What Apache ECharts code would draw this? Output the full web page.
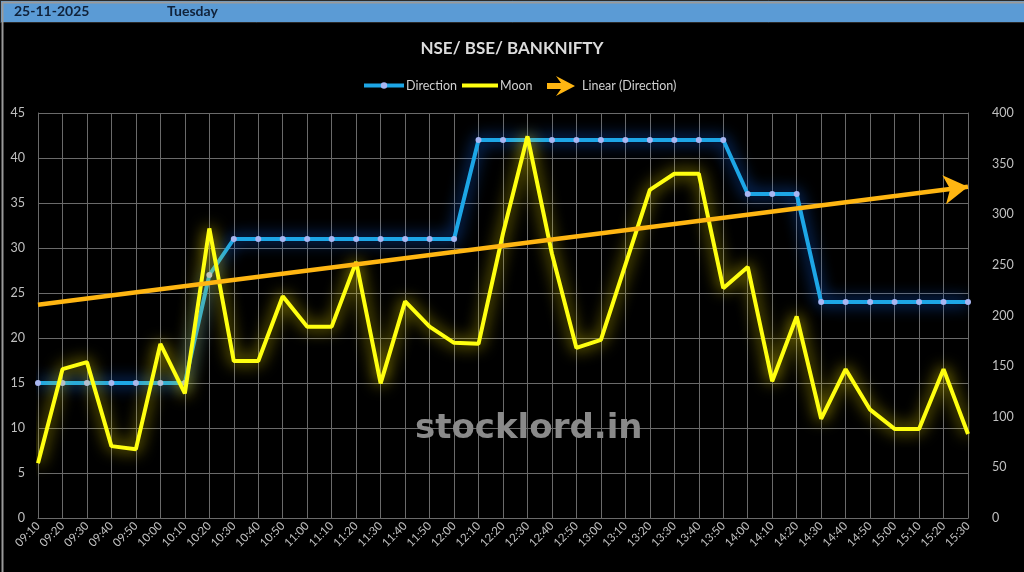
<!DOCTYPE html>
<html><head><meta charset="utf-8">
<script src="https://cdn.jsdelivr.net/npm/echarts@6/dist/echarts.min.js"></script>
<style>html,body{margin:0;padding:0;background:#000}#c{width:1024px;height:572px}</style>
</head><body><div id="c"></div>
<script>
const times = ['09:10','09:20','09:30','09:40','09:50','10:00','10:10','10:20','10:30','10:40','10:50','11:00','11:10','11:20','11:30','11:40','11:50','12:00','12:10','12:20','12:30','12:40','12:50','13:00','13:10','13:20','13:30','13:40','13:50','14:00','14:10','14:20','14:30','14:40','14:50','15:00','15:10','15:20','15:30'];
const direction = [15,15,15,15,15,15,15,27,31,31,31,31,31,31,31,31,31,31,42,42,42,42,42,42,42,42,42,42,42,36,36,36,24,24,24,24,24,24,24];
const moon = [54,147,154,71,68,172,123,286,155,155,219,189,189,253,133,214,189,173,172,281,377,261,168,176,250,324,340,340,227,248,135,199,98,147,107,88,88,147,83];
const trendEnds = [23.7, 36.8];
const leftTicks = {min:0, max:45, step:5};
const rightTicks = {min:0, max:400, step:50};
const headerDate = '25-11-2025';
const headerDay = 'Tuesday';

const FONT = 'Lato, "Open Sans", sans-serif';
const chart = echarts.init(document.getElementById('c'), null, {renderer:'canvas'});
const gridColor = '#6a6a6a';
const labelColor = '#c0c0c0';
const arrowPath = 'path://M0,7 L14,7 L9,0 L28,10 L9,20 L14,13 L0,13 Z';
const legendText = {color:'#d0d0d0', fontSize:12.5, fontFamily:FONT, padding:[0,0,0,-3]};

chart.setOption({
  backgroundColor:'#000',
  animation:false,
  title:{text:'NSE/ BSE/ BANKNIFTY', left:'center', top:35,
    textStyle:{color:'#dcdcdc', fontSize:17, fontWeight:'bold', fontFamily:FONT}},
  legend:[
    {data:[{name:'Direction', lineStyle:{width:4}}], left:357, top:74, itemWidth:40, itemHeight:8,
      textStyle:legendText},
    {data:[{name:'Moon', itemStyle:{opacity:0}, lineStyle:{width:4}}], left:455, top:74, itemWidth:36, itemHeight:8,
      textStyle:legendText},
    {data:[{name:'Linear (Direction)', icon:arrowPath, itemStyle:{color:'#FFB612'}}], left:542, top:71, itemWidth:28, itemHeight:21,
      textStyle:{color:'#d0d0d0', fontSize:12.5, fontFamily:FONT, padding:[0,0,0,2]}}
  ],
  grid:{left:38, right:56, top:113, bottom:54, containLabel:false},
  xAxis:{type:'category', data:times, boundaryGap:false,
    axisLine:{lineStyle:{color:gridColor}}, axisTick:{show:false},
    axisLabel:{rotate:45, interval:0, color:labelColor, fontSize:11.5, fontFamily:FONT, margin:6},
    splitLine:{show:true, interval:0, lineStyle:{color:gridColor, width:1}}},
  yAxis:[
    {type:'value', min:leftTicks.min, max:leftTicks.max, interval:leftTicks.step,
      axisLine:{show:true, lineStyle:{color:gridColor}}, axisTick:{show:false},
      axisLabel:{color:labelColor, fontSize:12.5, fontFamily:FONT, margin:13},
      splitLine:{show:true, lineStyle:{color:gridColor, width:1}}},
    {type:'value', min:rightTicks.min, max:rightTicks.max, interval:rightTicks.step, position:'right',
      axisLine:{show:true, lineStyle:{color:gridColor}}, axisTick:{show:false},
      axisLabel:{color:labelColor, fontSize:12.5, fontFamily:FONT, margin:24},
      splitLine:{show:false}}
  ],
  series:[
    {name:'Direction', type:'line', yAxisIndex:0, data:direction,
      symbol:'circle', symbolSize:6, showSymbol:true,
      itemStyle:{color:'#A8B6F2', borderWidth:0},
      lineStyle:{color:'#1DA6E6', width:4, shadowColor:'rgba(20,110,255,1)', shadowBlur:16},
      z:2},
    {name:'Moon', type:'line', yAxisIndex:1, data:moon,
      symbol:'none', itemStyle:{color:'#FFFF10'},
      lineStyle:{color:'#FFFF10', width:4, shadowColor:'rgba(255,235,0,0.95)', shadowBlur:16},
      z:3},
    {name:'Linear (Direction)', type:'line', yAxisIndex:0, data:[],
      itemStyle:{color:'#FFB612'},
      lineStyle:{color:'#FFB612', width:4.5},
      markLine:{silent:true, symbol:['none','arrow'], symbolSize:[22,24],
        label:{show:false},
        lineStyle:{color:'#FFB612', width:4.5, type:'solid'},
        data:[[{coord:[times[0], trendEnds[0]]},{coord:[times[times.length-1], trendEnds[1]]}]]},
      z:4}
  ],
  graphic:[
    {type:'rect', left:0, top:0, shape:{width:1024, height:22}, style:{fill:'#5B9BD5', stroke:'#2a2a2a', lineWidth:1}, z:10},
    {type:'text', left:14, top:4, style:{text:headerDate, fill:'#10223a', font:'bold 14px '+FONT}, z:11},
    {type:'text', left:167, top:4, style:{text:headerDay, fill:'#10223a', font:'bold 14px '+FONT}, z:11},
    {type:'rect', left:0, top:0, shape:{width:1023, height:571}, style:{fill:'none', stroke:'#9a9a9a', lineWidth:2}, z:12, silent:true},
    {type:'text', left:415, top:412, style:{text:'stocklord.in', fill:'#8a8a8a', font:'bold 34px "DejaVu Sans"'}, z:20}
  ]
});
</script></body></html>
